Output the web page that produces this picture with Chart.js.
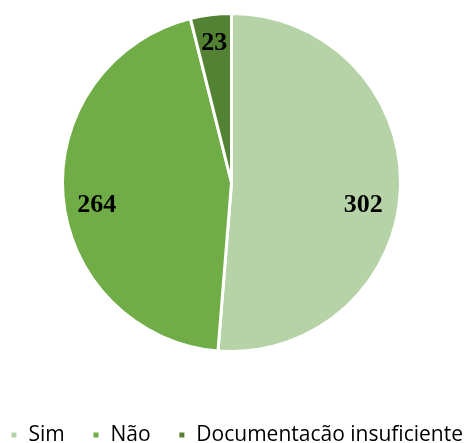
<!DOCTYPE html>
<html>
<head>
<meta charset="utf-8">
<script src="https://cdn.jsdelivr.net/npm/chart.js@4"></script>
<style>
  html, body { margin: 0; padding: 0; background: #fff; }
  #wrap { width: 466px; height: 443px; }
</style>
</head>
<body>
<div id="wrap"><canvas id="pie-chart"></canvas></div>
<script>
const categories = ['Sim', 'Não', 'Documentacão insuficiente'];
const counts = [302, 264, 23];
const sliceColors = ['#b5d3a7', '#70ad47', '#548235'];

// label nudges, per slice: share of radius along the mid angle, then extra y
const labelRadius = [0.78, 0.80, 0.83];
const labelShiftY = [18, 12, 0];

// trailing gap after each legend entry (legend padding would make the row wrap)
const legendGap = '     ';

const sliceLabels = {
    id: 'sliceLabels',
    afterDatasetsDraw(chart) {
        const ctx = chart.ctx;
        const meta = chart.getDatasetMeta(0);
        ctx.save();
        ctx.font = 'bold 26px "Liberation Serif", "Times New Roman", serif';
        ctx.fillStyle = '#000';
        ctx.textAlign = 'center';
        ctx.textBaseline = 'middle';
        meta.data.forEach((arc, i) => {
            const p = arc.getProps(['x', 'y', 'startAngle', 'endAngle', 'outerRadius'], true);
            const mid = (p.startAngle + p.endAngle) / 2;
            const r = p.outerRadius * labelRadius[i];
            ctx.fillText(String(counts[i]), p.x + Math.cos(mid) * r, p.y + Math.sin(mid) * r + labelShiftY[i]);
        });
        ctx.restore();
    }
};

new Chart('pie-chart', {
    type: 'pie',
    data: {
        labels: categories,
        datasets: [{
            data: counts,
            backgroundColor: sliceColors,
            borderColor: '#ffffff',
            borderWidth: 3,
            radius: 169
        }]
    },
    options: {
        responsive: true,
        maintainAspectRatio: false,
        animation: false,
        layout: { padding: { top: 0, right: 3, bottom: -12.5, left: 0 } },
        plugins: {
            tooltip: { enabled: false },
            legend: {
                position: 'bottom',
                align: 'end',
                title: { display: true, text: '', font: { size: 10 }, padding: 23.75 },
                labels: {
                    boxWidth: 8,
                    boxHeight: 8,
                    padding: 0,
                    color: '#000',
                    font: { family: '"Open Sans", sans-serif', size: 21 },
                    generateLabels(chart) {
                        const items = Chart.overrides.pie.plugins.legend.labels.generateLabels(chart);
                        items.forEach((item, i) => {
                            if (i < items.length - 1) item.text = item.text + legendGap;
                        });
                        return items;
                    }
                }
            }
        }
    },
    plugins: [sliceLabels]
});
</script>
</body>
</html>
